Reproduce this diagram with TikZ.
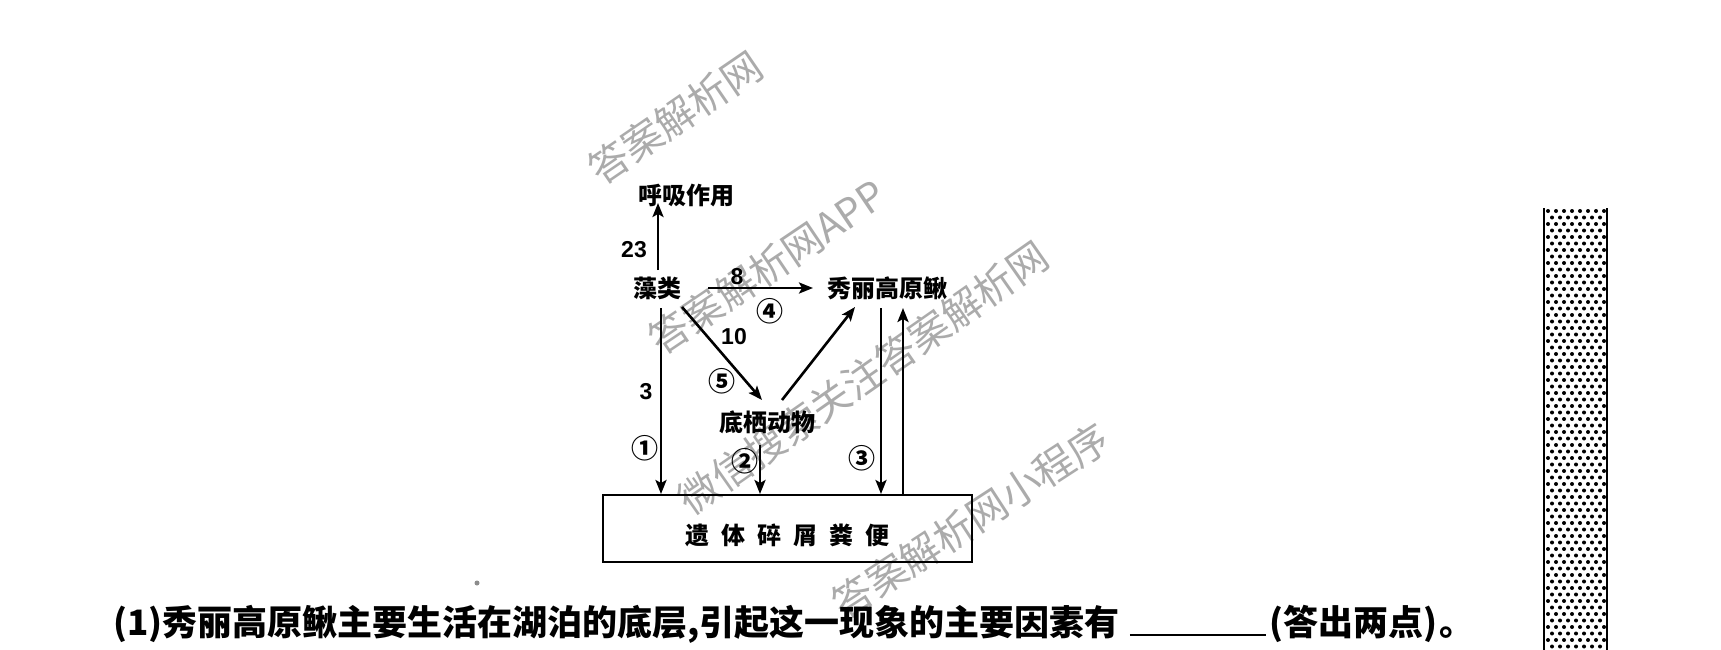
\documentclass[tikz,border=0pt]{standalone}
\usepackage{fontspec}
\setmainfont{Liberation Sans}
\newfontfamily\cjk{Noto Sans CJK SC}
\newfontfamily\numf{Liberation Sans}
\usetikzlibrary{arrows.meta}
\begin{document}
\begin{tikzpicture}[x=1pt,y=-1pt,
  lab/.style={font=\cjk\bfseries\fontsize{24}{24}\selectfont, inner sep=0pt},
  num/.style={font=\numf\bfseries\fontsize{23}{23}\selectfont, inner sep=0pt},
  circnum/.style={font=\cjk\bfseries\fontsize{27}{27}\selectfont, inner sep=0pt},
  flow/.style={line width=2.6pt, -{Stealth[length=14pt,width=11pt,inset=3pt]}},
  wm/.style={font=\cjk\fontsize{40}{40}\selectfont, text=black!33, inner sep=0pt, anchor=west},
  qtext/.style={font=\cjk\bfseries\fontsize{35}{35}\selectfont, inner sep=0pt, anchor=base west},
]
\useasboundingbox (0,0) rectangle (1721,650);
\fill[white] (0,0) rectangle (1721,650);

% watermarks
\node[wm, rotate=34.4] (wmA) at (593,174) {答案解析网};
\node[wm, rotate=34] (wmB) at (653,344) {答案解析网APP};
\node[wm, rotate=35] (wmC) at (683,504) {微信搜索关注答案解析网};
\node[wm, rotate=33] (wmD) at (836,608) {答案解析网小程序};

% speck
\fill[black!45] (477,583) circle[radius=2.5];

% nodes
\node[lab] (hx) at (686,195) {呼吸作用};
\node[lab] (zl) at (657,288) {藻类};
\node[lab] (xl) at (887,288) {秀丽高原鳅};
\node[lab] (dq) at (767,422) {底栖动物};
\node[draw, line width=2.6pt, minimum width=369pt, minimum height=67pt, inner sep=0pt] (box) at (787.5,528.5) {};
\node[lab] (boxt) at (787,535) {遗\hspace{12pt}体\hspace{12pt}碎\hspace{12pt}屑\hspace{12pt}粪\hspace{12pt}便};

% connector end points
\coordinate (zlUp) at (658,270);
\coordinate (hxIn) at (658,203);
\coordinate (zlRt) at (708,288);
\coordinate (xlIn) at (813,288);
\coordinate (zlDg) at (682,307);
\coordinate (dqIn) at (762,400);
\coordinate (dqOut) at (782,400);
\coordinate (xlDg) at (855,307);
\coordinate (zlDn) at (661,308);
\coordinate (bx1) at (661,494);
\coordinate (dqDn) at (760,445);
\coordinate (bx2) at (760,494);
\coordinate (xlDn) at (881,308);
\coordinate (bx3) at (881,494);
\coordinate (bx4) at (903,495);
\coordinate (xlUpIn) at (903,308);

\draw[flow] (zlUp) -- (hxIn);
\draw[flow] (zlRt) -- (xlIn);
\draw[flow] (zlDg) -- (dqIn);
\draw[flow] (dqOut) -- (xlDg);
\draw[flow] (zlDn) -- (bx1);
\draw[flow] (dqDn) -- (bx2);
\draw[flow] (xlDn) -- (bx3);
\draw[flow] (bx4) -- (xlUpIn);

% labels
\node[num] (n23) at (634,250) {23};
\node[num] (n8) at (737,277) {8};
\node[num] (n10) at (734,337) {10};
\node[num] (n3) at (646,392) {3};
\node[circnum] (c4) at (770,311) {④};
\node[circnum] (c5) at (722,381) {⑤};
\node[circnum] (c1) at (645,448) {①};
\node[circnum] (c2) at (745,461) {②};
\node[circnum] (c3) at (862,458) {③};

% question text
\node[qtext] (q) at (113,635) {(1)秀丽高原鳅主要生活在湖泊的底层,引起这一现象的主要因素有\kern10pt\rule[-1pt]{136pt}{2.4pt}\kern4pt(答出两点)\kern2pt。};

% dotted column
\foreach \r in {0,...,68}{
  \pgfmathsetmacro\yy{211+\r*6.5}
  \ifodd\r
    \foreach \c in {0,...,6}{\fill ({1552+\c*8},\yy) circle[radius=2];}
  \else
    \foreach \c in {0,...,7}{\fill ({1548+\c*8},\yy) circle[radius=2];}
  \fi
}
\draw[line width=2pt] (1544,208) -- (1544,650);
\draw[line width=2pt] (1607,208) -- (1607,650);
\end{tikzpicture}
\end{document}
